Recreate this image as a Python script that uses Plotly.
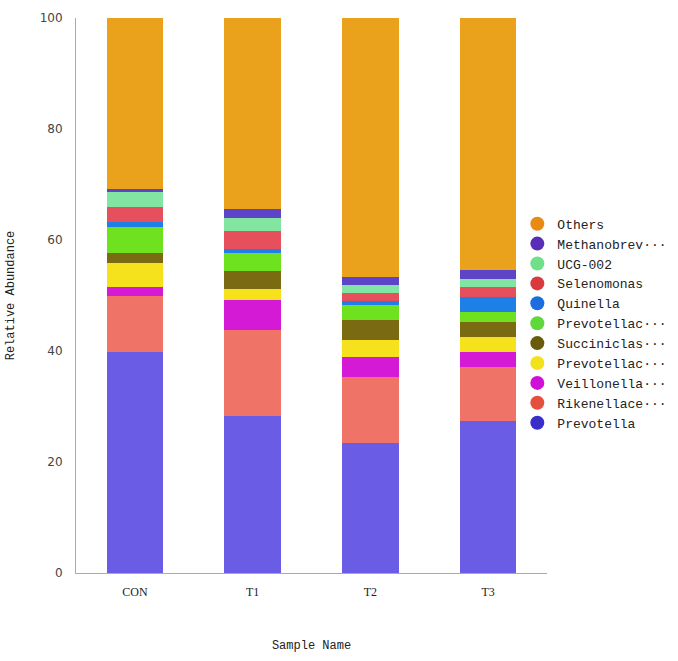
import plotly.graph_objects as go

samples = ["CON", "T1", "T2", "T3"]

# bottom -> top stacking order
taxa = ["Prevotella", "Rikenellace···", "Veillonella···", "Prevotellac···", "Succiniclas···",
        "Prevotellac···", "Quinella", "Selenomonas", "UCG-002", "Methanobrev···", "Others"]

prevotella   = [39.9, 28.2, 23.5, 27.4]
rikenellace  = [10.0, 15.6, 11.9, 9.7]
veillonella  = [1.7, 5.4, 3.5, 2.7]
prevotellac_y = [4.2, 2.0, 3.1, 2.8]
succiniclas  = [1.9, 3.3, 3.5, 2.6]
prevotellac_g = [4.7, 3.1, 2.8, 1.9]
quinella     = [0.85, 0.7, 0.8, 2.6]
selenomonas  = [2.7, 3.35, 1.3, 1.75]
ucg002       = [2.75, 2.4, 1.5, 1.55]
methanobrev  = [0.5, 1.45, 1.5, 1.6]
others = [round(100 - sum(v), 2) for v in zip(prevotella, rikenellace, veillonella, prevotellac_y,
                                                succiniclas, prevotellac_g, quinella, selenomonas,
                                                ucg002, methanobrev)]

series = [prevotella, rikenellace, veillonella, prevotellac_y, succiniclas,
          prevotellac_g, quinella, selenomonas, ucg002, methanobrev, others]

bar_colors = ["#6a5ce4", "#ef7366", "#d41ad4", "#f6e21c", "#7a6a12",
              "#6fe21f", "#1e80e6", "#e6505c", "#82e6a2", "#5e45c8", "#eaa21c"]
legend_colors = ["#3a2ec8", "#e5503e", "#d010d8", "#f2e21a", "#6a5a0c",
                 "#5ed83a", "#1a6ee0", "#d83a3e", "#6ee08a", "#5a2db8", "#e88a14"]

fig = go.Figure()
for name, vals, col in zip(taxa, series, bar_colors):
    fig.add_trace(go.Bar(x=samples, y=vals, name=name, marker=dict(color=col, line=dict(width=0)),
                         showlegend=False))

# legend entries (circles), top to bottom: Others ... Prevotella
for name, col in reversed(list(zip(taxa, legend_colors))):
    fig.add_trace(go.Scatter(x=[None], y=[None], mode="markers", name=name,
                             marker=dict(symbol="circle", size=14, color=col)))

fig.update_layout(
    width=678, height=661,
    barmode="stack", bargap=0.52,
    plot_bgcolor="white", paper_bgcolor="white",
    margin=dict(l=76, r=131, t=18, b=88, autoexpand=False),
    showlegend=True,
    legend=dict(x=0.937, y=0.45, xanchor="left", yanchor="middle", traceorder="normal",
                font=dict(family="Liberation Mono", size=13, color="#222"),
                bgcolor="rgba(0,0,0,0)", itemwidth=30),
    xaxis=dict(title=dict(text="Sample Name", font=dict(family="Liberation Mono", size=12, color="#222"),
                          standoff=42),
               tickfont=dict(family="Liberation Serif", size=12, color="#222"),
               ticklabelstandoff=8,
               showline=True, linecolor="#aaaaaa", linewidth=1, ticks="", showgrid=False),
    yaxis=dict(title=dict(text="Relative Abundance", font=dict(family="Liberation Mono", size=12, color="#222"),
                          standoff=22),
               range=[0, 100], tickvals=[0, 20, 40, 60, 80, 100],
               tickfont=dict(family="DejaVu Sans", size=12, color="#444"),
               ticklabelstandoff=10,
               showline=True, linecolor="#aaaaaa", linewidth=1, ticks="", showgrid=False,
               zeroline=False),
)

fig.write_html("out.html")
